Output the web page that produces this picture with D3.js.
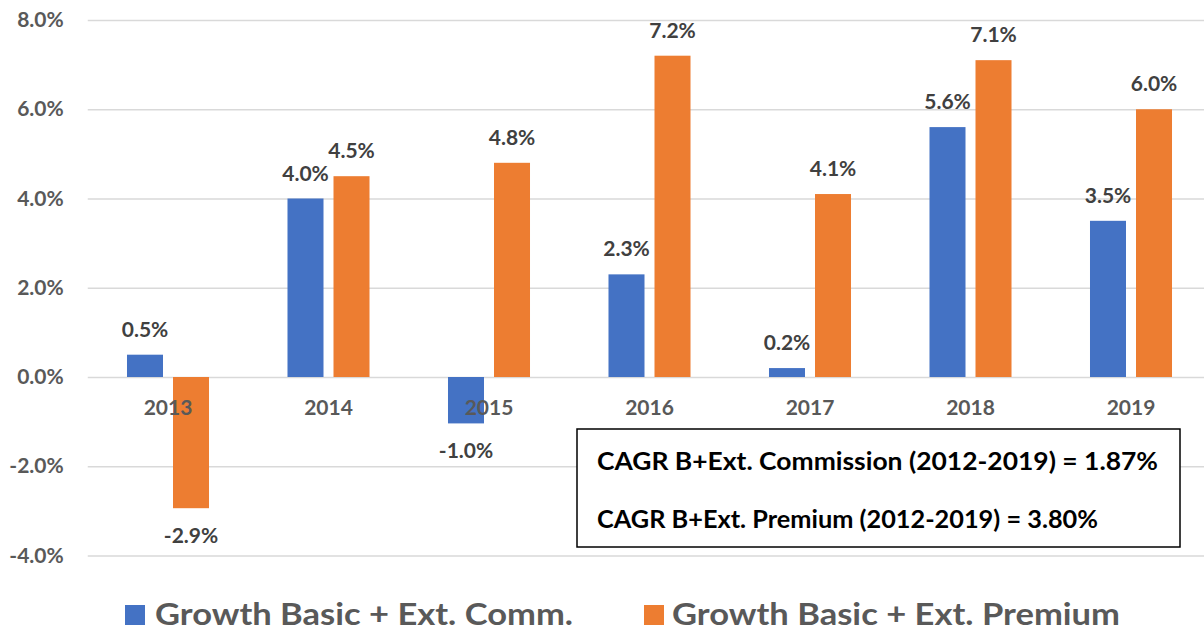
<!DOCTYPE html>
<html>
<head>
<meta charset="utf-8">
<script src="https://cdn.jsdelivr.net/npm/d3@7"></script>
<style>
  body { margin: 0; background: #fff; }
  text { font-family: Lato, "Open Sans", sans-serif; font-weight: 700; }
</style>
</head>
<body>
<svg id="chart" width="1204" height="632"></svg>
<script>
const years = ["2013", "2014", "2015", "2016", "2017", "2018", "2019"];
const seriesNames = ["Growth Basic + Ext. Comm.", "Growth Basic + Ext. Premium"];
const commValues = [0.5, 4.0, -1.04, 2.3, 0.2, 5.6, 3.5];
const premiumValues = [-2.94, 4.5, 4.8, 7.2, 4.1, 7.1, 6.0];
const yTicks = [-4, -2, 0, 2, 4, 6, 8];
const cagrNotes = [
  "CAGR B+Ext. Commission (2012-2019) = 1.87%",
  "CAGR B+Ext. Premium (2012-2019) = 3.80%"
];
const colors = ["#4472C4", "#ED7D31"];

const width = 1204;
const left = 87.75;
const step = 160.5;

const svg = d3.select("#chart");

const x0 = d3.scaleBand()
  .domain(years)
  .range([left, left + step * years.length])
  .paddingInner(0.489)
  .paddingOuter(0.2445);

const x1 = d3.scaleBand()
  .domain([0, 1])
  .range([0, x0.bandwidth()])
  .paddingInner(0.2174);

const y = d3.scaleLinear().domain([-4, 8]).range([555.5, 20]);

// gridlines + y labels
const yAxis = svg.append("g")
  .attr("transform", `translate(${left},0)`)
  .call(d3.axisLeft(y)
    .tickValues(yTicks)
    .tickFormat((d) => d.toFixed(1) + "%")
    .tickSize(-(width - left))
    .tickPadding(24));
yAxis.select(".domain").remove();
yAxis.selectAll("line").attr("stroke", "#d9d9d9").attr("stroke-width", 1.5);
yAxis.selectAll("text")
  .attr("font-size", 21)
  .attr("fill", "#595959")
  .style("font-family", "Lato, sans-serif")
  .style("font-weight", 700);

const rows = years.map((yr, i) => ({ year: yr, values: [commValues[i], premiumValues[i]] }));

const groups = svg.selectAll(".grp")
  .data(rows)
  .enter()
  .append("g")
  .attr("class", "grp")
  .attr("transform", (d) => `translate(${x0(d.year)},0)`);

groups.selectAll("rect")
  .data((d) => d.values.map((v, i) => ({ v, i })))
  .enter()
  .append("rect")
  .attr("x", (d) => x1(d.i))
  .attr("y", (d) => Math.min(y(d.v), y(0)))
  .attr("width", x1.bandwidth())
  .attr("height", (d) => Math.abs(y(d.v) - y(0)))
  .attr("fill", (d) => colors[d.i]);

// category labels (drawn over bars)
svg.selectAll(".cat")
  .data(years)
  .enter()
  .append("text")
  .attr("class", "cat")
  .attr("x", (d) => x0(d) + x0.bandwidth() / 2)
  .attr("y", y(0) + 38)
  .attr("text-anchor", "middle")
  .attr("font-size", 21)
  .attr("fill", "#595959")
  .text((d) => d);

// data labels
groups.selectAll(".lbl")
  .data((d) => d.values.map((v, i) => ({ v, i })))
  .enter()
  .append("text")
  .attr("class", "lbl")
  .attr("x", (d) => x1(d.i) + x1.bandwidth() / 2)
  .attr("y", (d) => (d.v >= 0 ? y(d.v) - 18 : y(d.v) + 35))
  .attr("text-anchor", "middle")
  .attr("font-size", 21)
  .attr("fill", "#404040")
  .text((d) => d.v.toFixed(1) + "%");

// CAGR box
const box = svg.append("g");
box.append("rect")
  .attr("x", 577)
  .attr("y", 429)
  .attr("width", 603)
  .attr("height", 118)
  .attr("fill", "#fff")
  .attr("stroke", "#000")
  .attr("stroke-width", 1.5);
box.selectAll("text")
  .data(cagrNotes)
  .enter()
  .append("text")
  .attr("x", 597)
  .attr("y", (d, i) => 470 + i * 58)
  .attr("font-size", 25)
  .attr("fill", "#000")
  .attr("textLength", (d, i) => [561, 501][i])
  .attr("lengthAdjust", "spacingAndGlyphs")
  .text((d) => d);

// legend
const legendPos = [{ sx: 125, tx: 155, len: 418 }, { sx: 644, tx: 672, len: 448 }];
const legend = svg.selectAll(".leg")
  .data(seriesNames)
  .enter()
  .append("g")
  .attr("class", "leg");
legend.append("rect")
  .attr("x", (d, i) => legendPos[i].sx)
  .attr("y", 605)
  .attr("width", 20)
  .attr("height", 20)
  .attr("fill", (d, i) => colors[i]);
legend.append("text")
  .attr("x", (d, i) => legendPos[i].tx)
  .attr("y", 625)
  .attr("font-size", 30)
  .attr("fill", "#595959")
  .attr("textLength", (d, i) => legendPos[i].len)
  .attr("lengthAdjust", "spacingAndGlyphs")
  .text((d) => d);
</script>
</body>
</html>
